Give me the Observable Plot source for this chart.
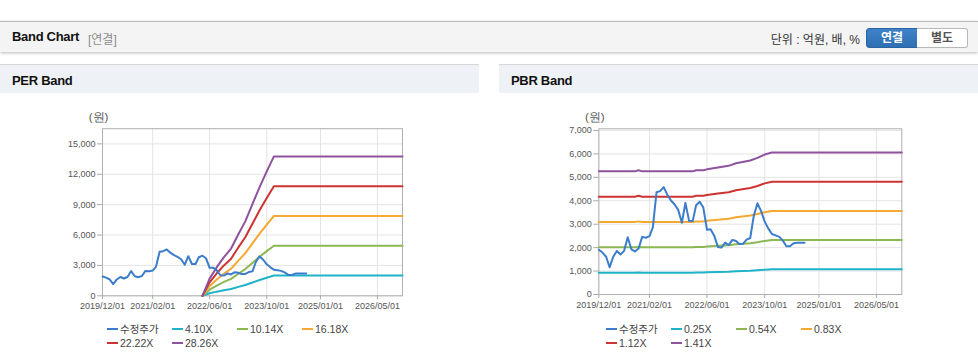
<!DOCTYPE html>
<html><head><meta charset="utf-8">
<script src="https://cdn.jsdelivr.net/npm/d3@7"></script>
<script src="https://cdn.jsdelivr.net/npm/@observablehq/plot@0.6"></script>
<style>
html,body{margin:0;padding:0;background:#fff;}
body{width:978px;height:364px;overflow:hidden;position:relative;font-family:"Liberation Sans","Noto Sans CJK KR",Arial,sans-serif;color:#222;}
.abs{position:absolute;}
#topbar{left:0;top:21px;width:978px;height:30px;background:#f4f4f4;border-top:1px solid #b9b9b9;box-shadow:0 1px 3px rgba(0,0,0,0.28);}
.t1{font-weight:bold;font-size:13px;letter-spacing:-0.3px;color:#111;}
.phead{top:64px;width:479px;height:28px;background:#eef2f7;border-top:1px solid #d6d6d6;}
.btn{top:28px;height:18px;width:50px;font-size:12px;font-weight:bold;text-align:center;line-height:18px;box-sizing:content-box;}
.legend{top:323px;display:grid;grid-template-columns:65px 65px 65px 65px;font-size:10.5px;color:#444;line-height:13.5px;}
.legend span.sw{display:inline-block;width:11px;height:2px;vertical-align:middle;margin-right:2px;position:relative;top:-1px;}
</style></head>
<body>
<div id="topbar" class="abs">
  <div class="abs t1" style="left:12px;top:7px;">Band Chart</div>
  <div class="abs" style="left:88px;top:8px;font-size:12px;color:#8c8c8c;">[연결]</div>
  <div class="abs" style="right:118px;top:8px;font-size:12px;color:#333;">단위 : 억원, 배, %</div>
</div>
<div class="abs btn" style="left:866px;background:linear-gradient(#3f82c8,#2f6fb3);border:1px solid #2a64a3;border-radius:3px 0 0 3px;color:#fff;">연결</div>
<div class="abs btn" style="left:917px;background:#fff;border:1px solid #b8b8b8;border-left:none;border-radius:0 3px 3px 0;color:#555;">별도</div>

<div class="abs phead" style="left:0;"><div class="abs t1" style="left:12px;top:8px;">PER Band</div></div>
<div class="abs phead" style="left:499px;"><div class="abs t1" style="left:12px;top:8px;">PBR Band</div></div>

<div id="per" class="abs" style="left:0;top:100px;"></div>
<div id="pbr" class="abs" style="left:499px;top:100px;"></div>
<div id="perLegend" class="abs legend" style="left:107px;"></div>
<div id="pbrLegend" class="abs legend" style="left:606px;"></div>

<script>
// ---- data ----
const priceStart = "2019-12-01"; // monthly adjusted price (수정주가)
const priceValues = [1910,1790,1610,1160,1610,1860,1710,1860,2440,1930,1840,1960,
  2460,2420,2490,2860,4360,4410,4580,4260,4010,3840,3610,3060,
  3910,3140,3140,3810,3960,3710,2760,2780,2510,2030,2000,2210,
  2110,2330,2280,2150,2160,2340,2410,3360,3890,3560,3110,2810,
  2580,2520,2460,2310,2060,2060,2190,2210,2210,2210];

const xTickDates = ["2019-12-01","2021-02-01","2022-06-01","2023-10-01","2025-01-01","2026-05-01"];
const xDomain = ["2019-12-01","2026-12-01"];

const perLabels = ["수정주가","4.10X","10.14X","16.18X","22.22X","28.26X"];
const pbrLabels = ["수정주가","0.25X","0.54X","0.83X","1.12X","1.41X"];
const seriesColors = ["#3b7dcb","#1fb3c8","#8cb853","#f5a833","#cc3332","#8f529d"];

const perBandDates = ["2022-04-01","2022-06-01","2022-08-01","2022-10-01","2022-12-01","2023-02-01",
  "2023-04-01","2023-06-01","2023-08-01","2023-10-01","2023-12-01","2026-12-01"];
const per410  = [0,246,410,554,677,882,1066,1312,1558,1784,1997,1997];
const per1014 = [0,608,1014,1369,1673,2180,2636,3245,3853,4411,4938,4938];
const per1618 = [0,971,1618,2184,2670,3479,4207,5178,6148,7038,7880,7880];
const per2222 = [0,1333,2222,3000,3666,4777,5777,7110,8444,9666,10821,10821];
const per2826 = [0,1696,2826,3815,4663,6076,7348,9043,10739,12293,13763,13763];

const pbrBandDates = ["2019-12-01","2020-10-01","2020-11-01","2020-12-01","2022-02-01","2022-03-01",
  "2022-05-01","2022-06-01","2022-09-01","2022-12-01","2023-02-01","2023-06-01","2023-08-01",
  "2023-10-01","2023-12-01","2026-12-01"];
const pbr025 = [932,932,940,932,932,940,940,947,961,974,993,1014,1034,1059,1075,1075];
const pbr054 = [2013,2013,2030,2013,2013,2030,2030,2045,2076,2103,2145,2191,2233,2286,2321,2321];
const pbr083 = [3093,3093,3120,3093,3093,3120,3120,3143,3191,3232,3297,3367,3432,3514,3567,3567];
const pbr112 = [4174,4174,4210,4174,4174,4210,4210,4241,4305,4361,4449,4544,4631,4742,4814,4814];
const pbr141 = [5255,5255,5300,5255,5255,5300,5300,5340,5420,5490,5600,5720,5830,5970,6060,6060];

const perYTicks = [0,3000,6000,9000,12000,15000];
const pbrYTicks = [0,1000,2000,3000,4000,5000,6000,7000];

// ---- build ----
const toDate = s => new Date(s + "T00:00:00Z");
const priceRows = label => priceValues.map((v,i) => ({date: d3.utcMonth.offset(toDate(priceStart), i), value: v, series: label}));
const bandRows = (dates, vals, label) => vals.map((v,i) => ({date: toDate(dates[i]), value: v, series: label}));

function chart(rows, labels, yDomain, yTicks, m) {
  const xt = xTickDates.map(toDate);
  const price = rows.filter(r => r.series === labels[0]);
  const bands = rows.filter(r => r.series !== labels[0]);
  return Plot.plot({
    width: 479, height: 220,
    marginLeft: m.left, marginRight: m.right, marginTop: m.top, marginBottom: m.bottom,
    style: {fontFamily: '"Liberation Sans", Arial, sans-serif', fontSize: "9px", color: "#555", background: "transparent", overflow: "visible"},
    x: {type: "utc", domain: xDomain.map(toDate)},
    y: {domain: yDomain},
    color: {domain: labels, range: seriesColors},
    marks: [
      Plot.gridX(xt, {stroke: "#e4e4e4", strokeOpacity: 1}),
      Plot.gridY(yTicks, {stroke: "#e4e4e4", strokeOpacity: 1}),
      Plot.frame({stroke: "#b0b0b0"}),
      Plot.line(bands, {x: "date", y: "value", z: "series", stroke: "series", strokeWidth: 2}),
      Plot.line(price, {x: "date", y: "value", z: "series", stroke: "series", strokeWidth: 2}),
      Plot.axisX(xt, {tickFormat: d3.utcFormat("%Y/%m/%d"), tickSize: 4, tickPadding: 3, stroke: "#aaa", fill: "#555", label: null}),
      Plot.axisY(yTicks, {tickFormat: d3.format(","), tickSize: 5, tickPadding: 2, stroke: "#aaa", fill: "#555", label: null}),
      Plot.text(["(원)"], {text: d => d, frameAnchor: "top-left", dx: -4, dy: -11, textAnchor: "middle", lineAnchor: "middle", fontSize: 11.5, fill: "#555"})
    ]
  });
}

const perRows = [
  ...priceRows(perLabels[0]),
  ...bandRows(perBandDates, per410, perLabels[1]),
  ...bandRows(perBandDates, per1014, perLabels[2]),
  ...bandRows(perBandDates, per1618, perLabels[3]),
  ...bandRows(perBandDates, per2222, perLabels[4]),
  ...bandRows(perBandDates, per2826, perLabels[5])
];
const pbrRows = [
  ...priceRows(pbrLabels[0]),
  ...bandRows(pbrBandDates, pbr025, pbrLabels[1]),
  ...bandRows(pbrBandDates, pbr054, pbrLabels[2]),
  ...bandRows(pbrBandDates, pbr083, pbrLabels[3]),
  ...bandRows(pbrBandDates, pbr112, pbrLabels[4]),
  ...bandRows(pbrBandDates, pbr141, pbrLabels[5])
];

document.getElementById("per").appendChild(chart(perRows, perLabels, [0,16500], perYTicks, {left:102, right:77, top:28.2, bottom:24.7}));
document.getElementById("pbr").appendChild(chart(pbrRows, pbrLabels, [0,7070], pbrYTicks, {left:99.3, right:76.7, top:28.3, bottom:26}));

function legend(id, labels) {
  const el = document.getElementById(id);
  labels.forEach((l,i) => {
    const d = document.createElement("div");
    d.innerHTML = '<span class="sw" style="background:' + seriesColors[i] + '"></span>' + l;
    el.appendChild(d);
  });
}
legend("perLegend", perLabels);
legend("pbrLegend", pbrLabels);
</script>
</body></html>
